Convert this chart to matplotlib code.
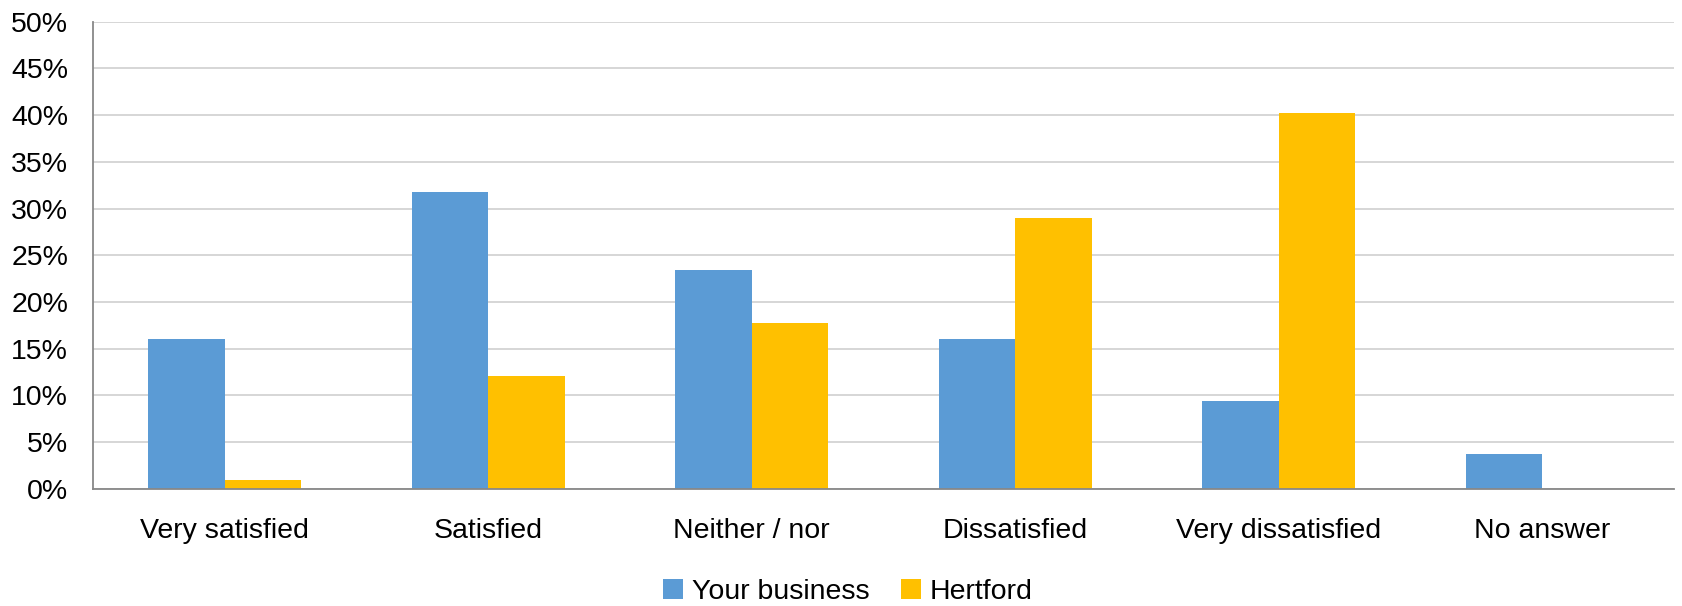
import matplotlib
matplotlib.use('Agg')
from matplotlib import pyplot as plt
from matplotlib.ticker import PercentFormatter
import numpy as np

categories = ['Very satisfied', 'Satisfied', 'Neither / nor', 'Dissatisfied',
              'Very dissatisfied', 'No answer']
your_business = [16.0, 31.8, 23.4, 16.0, 9.4, 3.7]
hertford = [0.9, 12.1, 17.7, 29.0, 40.2, 0.0]
series_names = ['Your business', 'Hertford']

plt.rcParams['font.family'] = ['Liberation Sans', 'DejaVu Sans']

fig = plt.figure(figsize=(16.82, 6.06), dpi=100)
ax = fig.add_axes([0.0553, 0.1935, 0.9399, 0.7707])

x = np.arange(len(categories))
w = 0.29
ax.bar(x - w / 2, your_business, w, color='#5B9BD5', label=series_names[0], zorder=3)
ax.bar(x + w / 2, hertford, w, color='#FFC000', label=series_names[1], zorder=3)

ax.set_xlim(-0.5, len(categories) - 0.5)
ax.set_ylim(0, 50)
ax.set_yticks(np.arange(0, 51, 5))
ax.yaxis.set_major_formatter(PercentFormatter(decimals=0))
ax.set_xticks(x)
ax.set_xticklabels(categories)
ax.tick_params(axis='x', length=0, pad=21, labelsize=20.5)
ax.tick_params(axis='y', length=0, pad=18, labelsize=20.5)
ax.grid(axis='y', color='#D3D3D3', lw=1.3, zorder=0)
for s in ['top', 'right']:
    ax.spines[s].set_visible(False)
for s in ['left', 'bottom']:
    ax.spines[s].set_color('#888888')
    ax.spines[s].set_linewidth(1.3)
ax.spines['bottom'].set_zorder(4)

fig.legend(loc='center', bbox_to_anchor=(0.504, 0.023), ncol=2, frameon=False,
           fontsize=20.5, handlelength=0.7, handleheight=0.7, handletextpad=0.3,
           columnspacing=1.1)

fig.savefig('out.png', dpi=100)
